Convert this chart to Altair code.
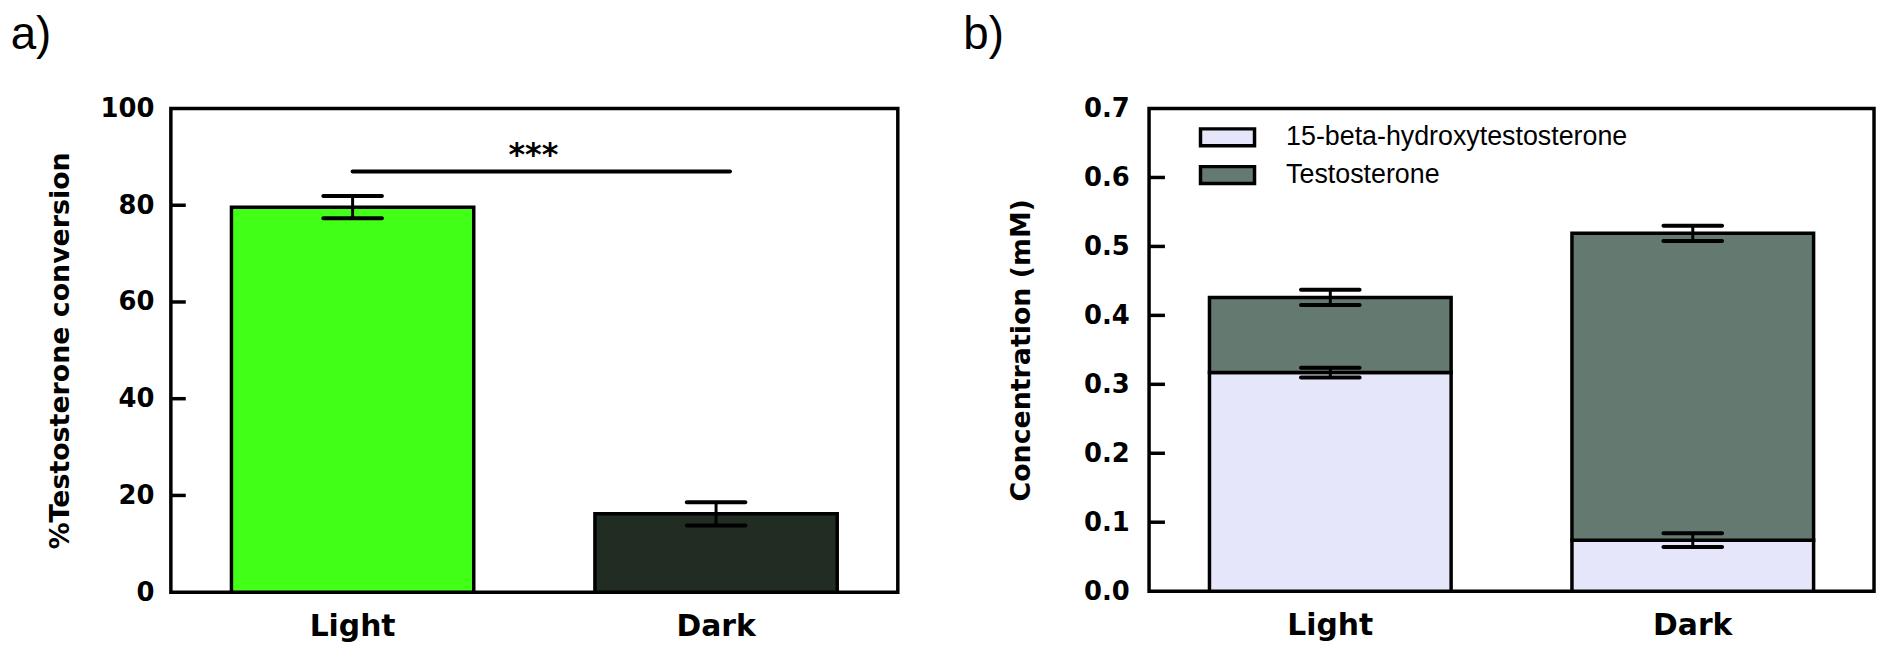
import altair as alt
import pandas as pd

# ---------------- Panel a data ----------------
conditions = ["Light", "Dark"]
conversion = [79.6, 16.2]
conversion_err = [2.3, 2.4]
conversion_colors = ["#42ff18", "#212d23"]
sig_y = 87.0
sig_label = "***"
a_ticks = [0, 20, 40, 60, 80, 100]
a_inner_ticks = [20, 40, 60, 80]

# ---------------- Panel b data ----------------
species = ["15-beta-hydroxytestosterone", "Testosterone"]
hydroxy = [0.317, 0.074]
hydroxy_err = [0.007, 0.010]
testo = [0.109, 0.445]
testo_err = [0.011, 0.011]
species_colors = ["#e6e6fa", "#647a70"]
b_ticks = [0.0, 0.1, 0.2, 0.3, 0.4, 0.5, 0.6, 0.7]
b_inner_ticks = [0.1, 0.2, 0.3, 0.4, 0.5, 0.6]

BOLD = "DejaVu Sans"
REG = "Liberation Sans"

df_a = pd.DataFrame({
    "cond": conditions,
    "value": conversion,
    "lo": [v - e for v, e in zip(conversion, conversion_err)],
    "hi": [v + e for v, e in zip(conversion, conversion_err)],
})
df_sig = pd.DataFrame({"a": [conditions[0]], "b": [conditions[1]], "y": [sig_y], "label": [sig_label]})

rows = []
for i, c in enumerate(conditions):
    rows.append({"cond": c, "species": species[0], "value": hydroxy[i], "order": 0,
                 "top": hydroxy[i], "err": hydroxy_err[i]})
    rows.append({"cond": c, "species": species[1], "value": testo[i], "order": 1,
                 "top": hydroxy[i] + testo[i], "err": testo_err[i]})
df_b = pd.DataFrame(rows)
df_b["lo"] = df_b["top"] - df_b["err"]
df_b["hi"] = df_b["top"] + df_b["err"]

x_scale = alt.Scale(domain=conditions, paddingInner=1 / 3, paddingOuter=1 / 6)


def x_axis():
    return alt.Axis(title=None, labelAngle=0, ticks=False, domain=False,
                    labelFont=BOLD, labelFontWeight="bold", labelFontSize=30,
                    labelPadding=20, labelColor="black")


def x_enc(field="cond:N"):
    return alt.X(field, sort=conditions, scale=x_scale, title=None, axis=x_axis())


def y_axis(title, values, fmt, title_pad, label_pad):
    return alt.Axis(title=title, values=values, format=fmt, ticks=False, domain=False, grid=False,
                    labelFont=BOLD, labelFontWeight="bold", labelFontSize=26, labelColor="black",
                    labelPadding=label_pad, titleFont=BOLD, titleFontWeight="bold", titleFontSize=27,
                    titleColor="black", titlePadding=title_pad)


ya_scale = alt.Scale(domain=[0, 100], nice=False)
ya_title = "%Testosterone conversion"


def ya(field):
    return alt.Y(field, scale=ya_scale, title=ya_title,
                 axis=y_axis(ya_title, a_ticks, "d", 26, 17))


bars_a = alt.Chart(df_a).mark_bar(stroke="black", strokeWidth=3.5).encode(
    x=x_enc(), y=ya("value:Q"),
    fill=alt.Fill("cond:N", scale=alt.Scale(domain=conditions, range=conversion_colors), legend=None),
)
stem_a = alt.Chart(df_a).mark_rule(color="black", strokeWidth=3).encode(
    x=x_enc(), y=ya("lo:Q"), y2="hi:Q")
caps_a = alt.Chart(df_a).transform_fold(["lo", "hi"], as_=["end", "yv"]).mark_tick(
    color="black", size=63, thickness=4, cornerRadius=2, opacity=1).encode(x=x_enc(), y=ya("yv:Q"))
ticks_a = alt.Chart(pd.DataFrame({"t": a_inner_ticks})).mark_rule(color="black", strokeWidth=3.5).encode(
    y=ya("t:Q"), x=alt.value(0), x2=alt.value(15))
sig_line = alt.Chart(df_sig).mark_rule(color="black", strokeWidth=4, x2Offset=14, strokeCap="round").encode(
    x=x_enc("a:N"), x2="b:N", y=ya("y:Q"))
sig_text = alt.Chart(df_sig).mark_text(font=BOLD, fontWeight="bold", fontSize=32, dx=182, dy=-6.5,
                                       baseline="alphabetic", color="black").encode(
    x=x_enc("a:N"), y=ya("y:Q"), text="label:N")

panel_a = alt.layer(ticks_a, bars_a, stem_a, caps_a, sig_line, sig_text).properties(
    width=732, height=487,
    title=alt.TitleParams("a)", anchor="start", frame="bounds", font=REG, fontSize=46,
                          fontWeight="normal", color="black", dx=-36, offset=37),
)

yb_scale = alt.Scale(domain=[0, 0.7], nice=False)
yb_title = "Concentration (mM)"


def yb(field, **kw):
    return alt.Y(field, scale=yb_scale, title=yb_title,
                 axis=y_axis(yb_title, b_ticks, ".1f", 48, 20), **kw)


bars_b = alt.Chart(df_b).mark_bar(stroke="black", strokeWidth=3.5).encode(
    x=x_enc(), y=yb("value:Q", stack="zero"),
    color=alt.Color("species:N", scale=alt.Scale(domain=species, range=species_colors),
                    legend=alt.Legend(title=None, orient="none", legendX=60, legendY=10, padding=0,
                                      symbolType="M-1.6,-0.5H1.6V0.5H-1.6Z", symbolSize=1156,
                                      symbolStrokeColor="black", symbolStrokeWidth=3.5,
                                      symbolOpacity=1, labelLimit=0,
                                      labelFont=REG, labelFontSize=27, labelColor="black",
                                      labelOffset=40, rowPadding=3)),
    order=alt.Order("order:Q"),
)
stem_b = alt.Chart(df_b).mark_rule(color="black", strokeWidth=3).encode(
    x=x_enc(), y=yb("lo:Q"), y2="hi:Q")
caps_b = alt.Chart(df_b).transform_fold(["lo", "hi"], as_=["end", "yv"]).mark_tick(
    color="black", size=63, thickness=4, cornerRadius=2, opacity=1).encode(x=x_enc(), y=yb("yv:Q"))
ticks_b = alt.Chart(pd.DataFrame({"t": b_inner_ticks})).mark_rule(color="black", strokeWidth=3.5).encode(
    y=yb("t:Q"), x=alt.value(0), x2=alt.value(16))

panel_b = alt.layer(ticks_b, bars_b, stem_b, caps_b).properties(
    width=730, height=486,
    title=alt.TitleParams("b)", anchor="start", frame="bounds", font=REG, fontSize=46,
                          fontWeight="normal", color="black", dx=-45, offset=37),
)

chart = alt.hconcat(panel_a, panel_b, spacing=62).resolve_scale(
    color="independent", fill="independent"
).resolve_legend(color="independent", fill="independent").properties(padding=0).configure(
    background="white",
    view=alt.ViewConfig(stroke="black", strokeWidth=3.5),
)

chart.save("out.html", embed_options={"renderer": "svg", "actions": False})
